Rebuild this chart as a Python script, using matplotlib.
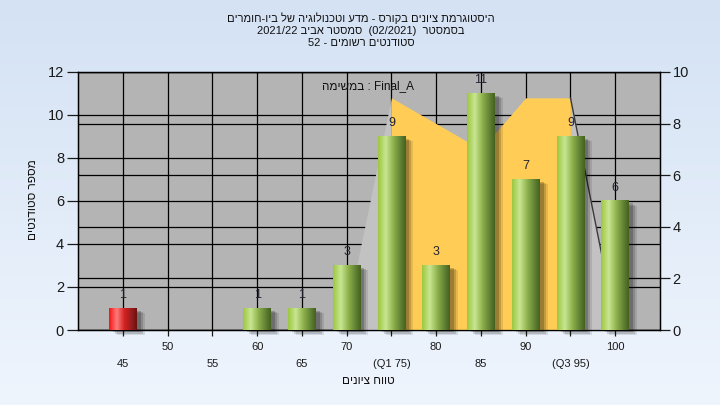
import re
import numpy as np
import matplotlib
matplotlib.use('Agg')
import matplotlib.pyplot as plt
import matplotlib.transforms as mtransforms
from matplotlib.colors import LinearSegmentedColormap
from matplotlib.patches import Rectangle

plt.rcParams['font.family'] = ['Liberation Sans', 'DejaVu Sans']

# ---------------- data ----------------
categories = ['45', '50', '55', '60', '65', '70', '75', '80', '85', '90', '95', '100']
tick_labels = ['45', '50', '55', '60', '65', '70', '(Q1 75)', '80', '85', '90', '(Q3 95)', '100']
counts = [1, 0, 0, 1, 1, 3, 9, 3, 11, 7, 9, 6]
bar_kinds = ['fail', 'pass', 'pass', 'pass', 'pass', 'pass', 'pass', 'pass', 'pass', 'pass', 'pass', 'pass']
area_cats = ['70', '75', '80', '85', '90', '95', '100']
area_values = [0.6, 9, 8, 7, 9, 9, 0.3]
q1_cat, q3_cat = '75', '95'
left_ticks = [0, 2, 4, 6, 8, 10, 12]
right_ticks = [0, 2, 4, 6, 8, 10]

title_lines = ['היסטוגרמת ציונים בקורס - מדע וטכנולוגיה של ביו-חומרים',
               'בסמסטר  (02/2021)  סמסטר אביב 2021/22',
               'סטודנטים רשומים - 52']
task_label = 'Final_A : במשימה'
ylabel = 'מספר סטודנטים'
xlabel = 'טווח ציונים'


def rtl(s):
    """Simple visual reordering for right-to-left Hebrew text."""
    r = s[::-1]
    r = re.sub(r'[0-9A-Za-z_/.]+', lambda m: m.group(0)[::-1], r)
    return r.translate(str.maketrans('()', ')('))


# ---------------- figure ----------------
fig = plt.figure(figsize=(7.2, 4.05), dpi=100)

bg = fig.add_axes([0, 0, 1, 1], zorder=-10)
bg_cmap = LinearSegmentedColormap.from_list('bg', ['#EFF5FD', '#D4E2F4'])
bg.imshow(np.linspace(0, 1, 256).reshape(-1, 1)[::-1], aspect='auto', cmap=bg_cmap,
          extent=[0, 1, 0, 1], origin='upper')
bg.axis('off')

pos = [78 / 720, 1 - 330 / 405, (660 - 78) / 720, (330 - 72) / 405]
axA = fig.add_axes(pos, zorder=0)
axA.set_facecolor('#B4B4B4')
axB = axA.twinx()
axB.set_zorder(1)
axB.patch.set_visible(False)
axC = fig.add_axes(pos, zorder=2, sharex=axA, sharey=axA)
axC.patch.set_visible(False)
axC.axis('off')

x = np.arange(len(categories))
axA.set_xlim(-1, len(categories))
axA.set_ylim(0, 12)
axB.set_ylim(0, 10)

# grid
axA.set_yticks(left_ticks)
axA.set_yticklabels([str(t) for t in left_ticks])
axB.set_yticks(right_ticks)
axB.set_yticklabels([str(t) for t in right_ticks])
for t in left_ticks:
    axA.axhline(t, color='black', lw=0.9, zorder=0.5)
for xi in x:
    axA.axvline(xi, color='black', lw=0.9, zorder=0.5)
for t in right_ticks:
    axB.axhline(t, color='black', lw=0.9, zorder=0.5)

# x ticks in two rows
odd = x[1::2]
even = x[0::2]
axA.set_xticks(odd)
axA.set_xticklabels([tick_labels[i] for i in odd])
axA.set_xticks(even, minor=True)
axA.set_xticklabels([tick_labels[i] for i in even], minor=True)
axA.tick_params(axis='x', which='major', length=4, width=0.9, pad=5, labelsize=8, colors='#1A1A1A')
axA.tick_params(axis='x', which='minor', length=4, width=0.9, pad=17, labelsize=8, colors='#1A1A1A')
axA.tick_params(axis='y', length=8, width=0.9, pad=2, labelsize=10.5, colors='#1A1A1A')
axB.tick_params(axis='y', length=7, width=0.9, pad=2, labelsize=10.5, colors='#1A1A1A')
for ax in (axA, axB):
    for sp in ax.spines.values():
        sp.set_color('black')
        sp.set_linewidth(0.9)

# area series (right axis)
xa = np.array([categories.index(c) for c in area_cats])
ya = np.array(area_values, dtype=float)
q1 = categories.index(q1_cat)
q3 = categories.index(q3_cat)
axB.fill_between(xa, ya, where=(xa <= q1), color='#C2C2C2', lw=0, zorder=1)
axB.fill_between(xa, ya, where=(xa >= q3), color='#C2C2C2', lw=0, zorder=1)
axB.fill_between(xa, ya, where=((xa >= q1) & (xa <= q3)), color='#FFCC55', lw=0, zorder=1.2)
axB.plot(xa[xa >= q3], ya[xa >= q3], color='#3A3A3A', lw=1.0, zorder=1.5)

# bars
green_cmap = LinearSegmentedColormap.from_list(
    'g', [(0, '#9CC73E'), (0.28, '#C9E692'), (0.55, '#8FB24C'), (0.85, '#5A7A30'), (1, '#45601F')])
red_cmap = LinearSegmentedColormap.from_list(
    'r', [(0, '#F21414'), (0.28, '#FF7A7A'), (0.55, '#D42222'), (0.85, '#8E1A1A'), (1, '#6A1010')])
bars = axC.bar(x, counts, width=0.62, color='none', edgecolor='none', zorder=3)
grad = np.linspace(0, 1, 256).reshape(1, -1)
for rect, kind, v in zip(bars, bar_kinds, counts):
    h = rect.get_height()
    if h <= 0:
        continue
    x0 = rect.get_x()
    w = rect.get_width()
    for dx, al in [(8, 0.10), (6, 0.15), (4, 0.2)]:
        off = mtransforms.offset_copy(axC.transData, fig=fig, x=dx, y=-dx * 0.6, units='dots')
        axC.add_patch(Rectangle((x0, 0), w, h, transform=off, facecolor='black', alpha=al,
                                lw=0, zorder=2, clip_on=False))
    cmap = red_cmap if kind == 'fail' else green_cmap
    axC.imshow(grad, extent=[x0, x0 + w, 0, h], aspect='auto', cmap=cmap, zorder=3,
               interpolation='bilinear')
    axC.annotate(str(v), (rect.get_x() + w / 2, h), xytext=(0, 9.5), textcoords='offset points',
                 ha='center', va='center', fontsize=9, color='#222230', zorder=5)

axC.set_xlim(-1, len(categories))
axC.set_ylim(0, 12)
axA.set_xlim(-1, len(categories))

# texts
for i, line in enumerate(title_lines):
    fig.text(361 / 720, 1 - (18 + i * 12.5) / 405, rtl(line), ha='center', va='center',
             fontsize=8, color='#111111')
fig.text(368 / 720, 1 - 86 / 405, rtl(task_label), ha='center', va='center', fontsize=8.5,
         color='#111111', zorder=10)
fig.text(33 / 720, 1 - 200 / 405, rtl(ylabel), ha='center', va='center', rotation=90,
         fontsize=8.5, color='#111111')
fig.text(368 / 720, 1 - 381 / 405, rtl(xlabel), ha='center', va='center', fontsize=8.5,
         color='#111111')

fig.savefig('out.png', dpi=100)
